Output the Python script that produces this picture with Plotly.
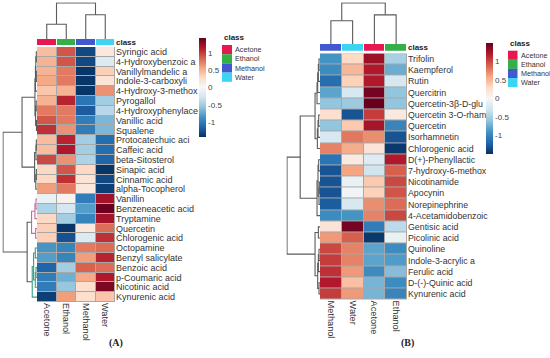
import plotly.graph_objects as go

# ---------------- DATA ----------------
class_names = ["Acetone", "Ethanol", "Methanol", "Water"]

# Panel A
a_rows = ["Syringic acid", "4-Hydroxybenzoic a", "Vanillylmandelic a", "Indole-3-carboxyli",
          "4-Hydroxy-3-methox", "Pyrogallol", "4-Hydroxyphenylace", "Vanillic acid", "Squalene",
          "Protocatechuic aci", "Caffeic acid", "beta-Sitosterol", "Sinapic acid", "Cinnamic acid",
          "alpha-Tocopherol", "Vanillin", "Benzeneacetic acid", "Tryptamine", "Quercetin",
          "Chlorogenic acid", "Octopamine", "Benzyl salicylate", "Benzoic acid", "p-Coumaric acid",
          "Nicotinic acid", "Kynurenic acid"]
a_cols = ["Acetone", "Ethanol", "Methanol", "Water"]
a_acetone = [0.45, 0.5, 0.5, 0.55, 0.4, 0.5, 0.75, 0.9, 1.05, 0.45, 0.45, 0.95, 0.3, 0.3, 0.6,
             -0.1, -0.45, 0.3, 0.35, 0.35, -0.85, -0.8, -1.15, -1.0, -1.0, -1.35]
a_ethanol = [0.9, 0.9, 0.75, 0.75, 0.5, 1.1, 0.75, 0.75, 0.65, 1.1, 1.15, 0.65, 0.9, 1.05, 0.75,
             0.05, -0.25, -0.5, -1.4, -1.25, -0.95, -0.95, -0.5, -0.7, -0.55, 0.6]
a_methanol = [-1.3, -1.3, -1.4, -1.4, -1.4, -1.05, -1.2, -1.0, -1.0, -0.5, -0.5, -0.45, 0.3, 0.2, 0.15,
              -1.0, -0.8, -0.95, 0.15, -0.2, 0.75, 0.6, 0.85, 0.55, 0.25, 0.25]
a_water = [0.15, -0.2, 0.35, 0.2, 0.65, -0.5, -0.4, -0.65, -0.65, -1.1, -1.1, -1.15, -1.4, -1.3, -1.35,
           1.2, 1.42, 1.2, 0.8, 1.05, 0.8, 1.1, 0.8, 1.15, 1.35, 0.4]
a_zrange = [-1.43, 1.43]
# row linkage (display-order leaf indices, merge height)
a_row_link = [(0, 1, .02), (2, 3, .02), (26, 27, .035), (28, 4, .045), (5, 6, .025), (7, 8, .015),
              (30, 31, .04), (29, 32, .06), (9, 10, .02), (34, 11, .03), (12, 13, .02), (36, 14, .035),
              (35, 37, .07), (33, 38, .44), (15, 16, .03), (40, 17, .06), (18, 19, .04), (41, 42, .16),
              (20, 21, .05), (22, 23, .03), (45, 24, .05), (44, 46, .10), (47, 25, .14), (43, 48, .29),
              (39, 49, 1.0)]
a_col_link = [(0, 1, 0.41), (2, 3, 0.67), (4, 5, 1.0)]

# Panel B
b_rows = ["Trifolin", "Kaempferol", "Rutin", "Quercitrin", "Quercetin-3β-D-glu", "Quercetin 3-O-rham",
          "Quercetin", "Isorhamnetin", "Chlorogenic acid", "D(+)-Phenyllactic", "7-hydroxy-6-methox",
          "Nicotinamide", "Apocynin", "Norepinephrine", "4-Acetamidobenzoic", "Gentisic acid",
          "Picolinic acid", "Quinoline", "Indole-3-acrylic a", "Ferulic acid", "D-(-)-Quinic acid",
          "Kynurenic acid"]
b_cols = ["Methanol", "Water", "Acetone", "Ethanol"]
b_methanol = [-0.9, -0.95, -1.15, -0.8, -0.6, 0.25, -0.6, -0.25, 0.75, -1.1, -1.3, -1.3, -1.3, -1.25,
              -0.95, 0.2, 0.65, 1.0, 1.05, 1.1, 1.2, 1.05]
b_water = [0.3, 0.5, 0.35, -0.25, -0.55, -1.3, 0.4, 0.8, 0.55, 0.15, 0.6, -0.1, -0.05, -0.25, -0.9,
           1.45, 0.9, 0.75, 0.75, 0.65, 0.45, 0.65]
b_acetone = [1.3, 1.2, 1.2, 1.45, 1.5, 1.05, 1.25, 0.7, 0.2, -0.2, -0.3, 0.4, 0.35, 0.7, 0.75,
             -1.05, -1.45, -0.8, -0.8, -0.95, -0.7, -0.7]
b_ethanol = [-0.5, -0.75, -0.25, -0.6, -0.6, 0.15, -1.0, -1.3, -1.45, 1.2, 0.9, 1.0, 0.95, 0.85, 1.0,
             -0.4, -0.1, -0.95, -0.85, -0.65, -0.95, -1.0]
b_zrange = [-1.5, 1.5]
b_row_link = [(0, 1, .03), (22, 2, .05), (23, 3, .07), (24, 4, .09), (5, 6, .04), (26, 7, .06),
              (27, 8, .08), (25, 28, .15), (9, 10, .04), (11, 12, .02), (31, 13, .03), (30, 32, .06),
              (33, 14, .09), (29, 34, .60), (15, 16, .05), (17, 18, .03), (37, 19, .05), (20, 21, .03),
              (38, 39, .07), (36, 40, .15), (35, 41, 1.0)]
b_col_link = [(0, 1, 0.565), (2, 3, 0.71), (4, 5, 1.0)]

cbar_ticks = [-1, -0.5, 0, 0.5, 1]
cbar_text = ["-1", "-0.5", "0", "0.5", "1"]

# ---------------- STYLE ----------------
W, H = 550, 358
class_colors = {"Acetone": "#e8174f", "Ethanol": "#33b048", "Methanol": "#4058d0", "Water": "#3cd4f0"}
rdbu = ["#053061", "#2166ac", "#4393c3", "#92c5de", "#d1e5f0", "#f7f7f7",
        "#fddbc7", "#f4a582", "#d6604d", "#b2182b", "#67001f"]
cscale = [[i / 10, c] for i, c in enumerate(rdbu)]
FONT = "Liberation Sans, Arial, sans-serif"
LINE = "#5a5a5a"
BORDER = "#a8a8a8"


def fx(p):
    return p / W


def fy(p):
    return 1 - p / H


def dom_x(a, b):
    return [fx(a), fx(b)]


def dom_y(top, bottom):
    return [fy(bottom), fy(top)]


def dendro(link, n, color_roots=None):
    pos = {i: float(i) for i in range(n)}
    hgt = {i: 0.0 for i in range(n)}
    children = {}
    segs = []
    for k, (a, b, h) in enumerate(link):
        node = n + k
        children[node] = (a, b)
        segs.append((node, [(pos[a], hgt[a]), (pos[a], h), (pos[b], h), (pos[b], hgt[b])]))
        pos[node] = (pos[a] + pos[b]) / 2
        hgt[node] = h
    colors = {}
    for root, col in (color_roots or {}).items():
        stack = [root]
        while stack:
            nd = stack.pop()
            if nd in children:
                colors[nd] = col
                stack.extend(children[nd])
    groups = {}
    for node, pts in segs:
        groups.setdefault(colors.get(node, LINE), []).append(pts)
    return groups


fig = go.Figure()
layout = {}
shapes = []
annotations = []


def panel(idx, rows, cols, cols_vals, zr, row_link, col_link, geo, cbar, legend, row_font,
          row_colors=None):
    ax = [str(idx * 4 + i + 1) for i in range(4)]
    ax = ["" if a == "1" else a for a in ax]
    heat_x, heat_y, bar_y, cd_y, rd_x = geo
    nr, nc = len(rows), len(cols)
    z = [[cols_vals[c][r] for c in range(nc)] for r in range(nr)]
    # main heatmap
    fig.add_trace(go.Heatmap(
        z=z, x=list(range(nc)), y=list(range(nr)), xaxis="x" + ax[0], yaxis="y" + ax[0],
        colorscale=cscale, zmin=zr[0], zmax=zr[1], xgap=1, ygap=1, hoverinfo="skip",
        colorbar=dict(thickness=7, len=cbar[2] - cbar[1], lenmode="pixels", x=fx(cbar[0]),
                      xanchor="left", y=fy((cbar[1] + cbar[2]) / 2), yanchor="middle",
                      outlinewidth=0, ticks="", tickvals=cbar_ticks, ticktext=cbar_text,
                      tickfont=dict(size=8, color="#444", family=FONT), xpad=0, ypad=0)))
    layout["xaxis" + ax[0]] = dict(domain=dom_x(*heat_x), anchor="y" + ax[0], range=[-0.5, nc - 0.5],
                                   tickvals=list(range(nc)), ticktext=cols, tickangle=90, ticks="",
                                   tickfont=dict(size=9.2, color="#333", family=FONT),
                                   showgrid=False, zeroline=False, showline=False, automargin=False)
    layout["yaxis" + ax[0]] = dict(domain=dom_y(*heat_y), anchor="x" + ax[0], range=[nr - 0.5, -0.5],
                                   side="right", tickvals=list(range(nr)), ticktext=rows, ticks="",
                                   tickfont=dict(size=row_font, color="#333", family=FONT),
                                   showgrid=False, zeroline=False, showline=False, automargin=False)
    shapes.append(dict(type="rect", xref="paper", yref="paper", x0=fx(heat_x[0]), x1=fx(heat_x[1]),
                       y0=fy(heat_y[1]), y1=fy(heat_y[0]), fillcolor=BORDER, line=dict(width=0),
                       layer="below"))
    # class bar
    ci = [class_names.index(c) for c in cols]
    k = len(class_names)
    dscale = []
    for i, c in enumerate(class_names):
        dscale += [[i / k, class_colors[c]], [(i + 1) / k, class_colors[c]]]
    fig.add_trace(go.Heatmap(z=[ci], x=list(range(nc)), y=[0], xaxis="x" + ax[1], yaxis="y" + ax[1],
                             colorscale=dscale, zmin=-0.5, zmax=k - 0.5, showscale=False,
                             xgap=1, hoverinfo="skip"))
    layout["xaxis" + ax[1]] = dict(domain=dom_x(*heat_x), anchor="y" + ax[1], range=[-0.5, nc - 0.5],
                                   visible=False, automargin=False)
    layout["yaxis" + ax[1]] = dict(domain=dom_y(*bar_y), anchor="x" + ax[1], range=[-0.5, 0.5],
                                   side="right", tickvals=[0], ticktext=["<b>class</b>"], ticks="",
                                   tickfont=dict(size=8, color="#222", family=FONT),
                                   showgrid=False, zeroline=False, showline=False, automargin=False)
    # column dendrogram
    for col, segs in dendro(col_link, nc).items():
        xs, ys = [], []
        for pts in segs:
            xs += [p for p, h in pts] + [None]
            ys += [h for p, h in pts] + [None]
        fig.add_trace(go.Scatter(x=xs, y=ys, mode="lines", line=dict(color=col, width=1.1),
                                 xaxis="x" + ax[2], yaxis="y" + ax[2], hoverinfo="skip",
                                 showlegend=False))
    hmax = max(h for _, _, h in col_link)
    layout["xaxis" + ax[2]] = dict(domain=dom_x(*heat_x), anchor="y" + ax[2], range=[-0.5, nc - 0.5],
                                   visible=False, automargin=False)
    layout["yaxis" + ax[2]] = dict(domain=dom_y(*cd_y), anchor="x" + ax[2], range=[0, hmax * 1.01],
                                   visible=False, automargin=False)
    # row dendrogram
    for col, segs in dendro(row_link, nr, row_colors).items():
        xs, ys = [], []
        for pts in segs:
            xs += [h for p, h in pts] + [None]
            ys += [p for p, h in pts] + [None]
        fig.add_trace(go.Scatter(x=xs, y=ys, mode="lines", line=dict(color=col, width=1.1),
                                 xaxis="x" + ax[3], yaxis="y" + ax[3], hoverinfo="skip",
                                 showlegend=False))
    hmax = max(h for _, _, h in row_link)
    layout["xaxis" + ax[3]] = dict(domain=dom_x(*rd_x), anchor="y" + ax[3], range=[hmax * 1.015, 0],
                                   visible=False, automargin=False)
    layout["yaxis" + ax[3]] = dict(domain=dom_y(*heat_y), anchor="x" + ax[3], range=[nr - 0.5, -0.5],
                                   visible=False, automargin=False)
    # class legend
    lx, ly, sw, sh = legend
    annotations.append(dict(text="<b>class</b>", x=fx(lx), y=fy(ly - 1), xref="paper", yref="paper",
                            xanchor="left", yanchor="bottom", showarrow=False,
                            font=dict(size=8, color="#222", family=FONT)))
    for i, c in enumerate(class_names):
        y0 = ly + i * sh
        shapes.append(dict(type="rect", xref="paper", yref="paper", x0=fx(lx), x1=fx(lx + sw),
                           y0=fy(y0 + sh), y1=fy(y0), fillcolor=class_colors[c], line=dict(width=0)))
        annotations.append(dict(text=c, x=fx(lx + sw + 1), y=fy(y0 + sh / 2), xref="paper",
                                yref="paper", xanchor="left", yanchor="middle", showarrow=False,
                                font=dict(size=7.2, color="#333", family=FONT)))


panel(0, a_rows, a_cols, [a_acetone, a_ethanol, a_methanol, a_water], a_zrange, a_row_link, a_col_link,
      geo=((37, 115), (47, 302), (39, 45), (2.5, 39), (2.5, 37)),
      cbar=(199, 38, 137), legend=(222, 45, 10, 9.2), row_font=9,
      row_colors={43: "#c7689a", 48: "#3a9c86"})
panel(1, b_rows, b_cols, [b_methanol, b_water, b_acetone, b_ethanol], b_zrange, b_row_link, b_col_link,
      geo=((320, 407), (53.4, 299.6), (44, 50.7), (2.5, 44), (286.5, 320)),
      cbar=(486, 43, 154), legend=(508, 50.7, 9.5, 9.1), row_font=8.8)

annotations.append(dict(text="<b>(A)</b>", x=fx(107), y=fy(351), xref="paper", yref="paper",
                        showarrow=False, font=dict(size=10, color="#222", family="Liberation Serif, serif")))
annotations.append(dict(text="<b>(B)</b>", x=fx(416), y=fy(351), xref="paper", yref="paper",
                        showarrow=False, font=dict(size=10, color="#222", family="Liberation Serif, serif")))

fig.update_layout(width=W, height=H, margin=dict(l=0, r=0, t=0, b=0, pad=0, autoexpand=False),
                  showlegend=False, paper_bgcolor="white", plot_bgcolor="rgba(0,0,0,0)", template="none",
                  hovermode=False, shapes=shapes, annotations=annotations, **layout)
fig.write_html("out.html", config={"displayModeBar": False, "staticPlot": True},
               post_script="document.body.style.margin='0';document.body.style.padding='0';"
                           "document.body.style.overflow='hidden';")
